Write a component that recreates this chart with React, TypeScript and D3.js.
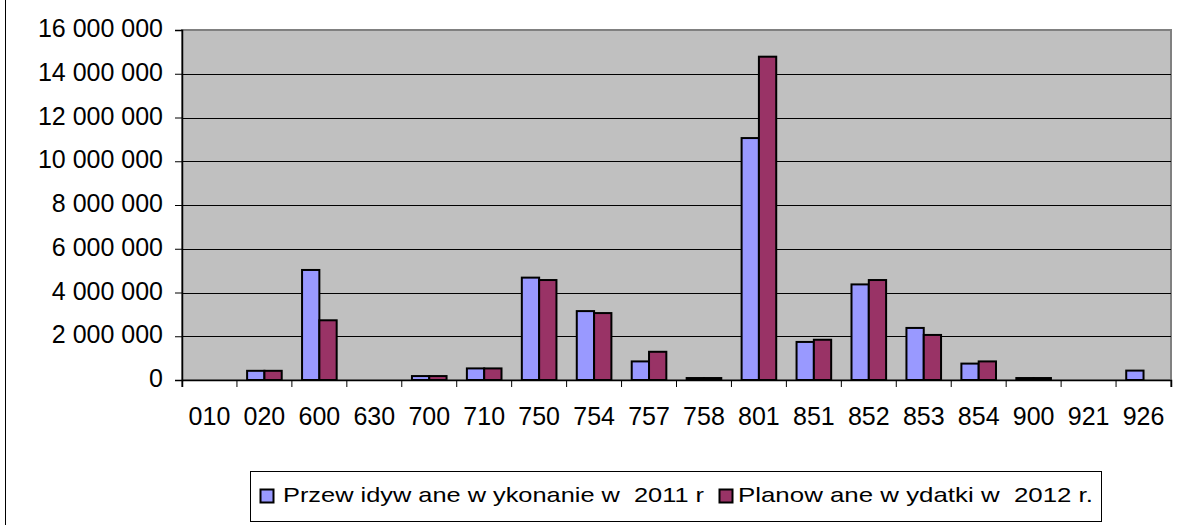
import React, { useEffect, useRef } from 'react';
import * as d3 from 'd3';

const categories = ['010', '020', '600', '630', '700', '710', '750', '754', '757', '758', '801', '851', '852', '853', '854', '900', '921', '926'];
const values2011 = [0, 420000, 5030000, 0, 180000, 530000, 4680000, 3150000, 850000, 90000, 11060000, 1740000, 4370000, 2380000, 750000, 90000, 0, 430000];
const values2012 = [0, 420000, 2730000, 0, 180000, 530000, 4570000, 3060000, 1290000, 90000, 14780000, 1840000, 4570000, 2060000, 850000, 90000, 0, 0];
const seriesNames = ['Przew idyw ane w ykonanie w  2011 r', 'Planow ane w ydatki w  2012 r.'];
const yTicks = [0, 2000000, 4000000, 6000000, 8000000, 10000000, 12000000, 14000000, 16000000];

const colors = ['#9999FF', '#993366'];

const App: React.FC = () => {
  const svgRef = useRef<SVGSVGElement | null>(null);

  useEffect(() => {
    if (!svgRef.current) return;
    const svg = d3.select(svgRef.current);
    svg.selectAll('*').remove();

    const plot = { left: 182, right: 1171, top: 30, bottom: 380 };
    const font = 'Liberation Sans, Arial, sans-serif';

    // outer frame (only left edge visible)
    svg.append('line')
      .attr('x1', 5.5).attr('x2', 5.5).attr('y1', 0).attr('y2', 525)
      .attr('stroke', '#000').attr('stroke-width', 1);

    // plot background
    svg.append('rect')
      .attr('x', plot.left).attr('y', plot.top)
      .attr('width', plot.right - plot.left).attr('height', plot.bottom - plot.top)
      .attr('fill', '#C0C0C0')
      .attr('stroke', '#808080').attr('stroke-width', 2);

    const x0 = d3.scaleBand<string>()
      .domain(categories)
      .range([plot.left, plot.right])
      .padding(0);

    const bw = x0.bandwidth();
    const x1 = d3.scaleBand<number>()
      .domain([0, 1])
      .range([bw * 0.185, bw * 0.815])
      .padding(0);

    const y = d3.scaleLinear()
      .domain([0, 16000000])
      .range([plot.bottom, plot.top]);

    // gridlines
    svg.append('g')
      .selectAll('line')
      .data(yTicks.filter(t => t > 0 && t < 16000000))
      .enter()
      .append('line')
      .attr('x1', plot.left).attr('x2', plot.right)
      .attr('y1', d => Math.round(y(d)) + 0.5).attr('y2', d => Math.round(y(d)) + 0.5)
      .attr('stroke', '#000').attr('stroke-width', 1);

    // bars
    const series = [values2011, values2012];
    series.forEach((vals, si) => {
      svg.append('g')
        .selectAll('rect')
        .data(vals.map((v, i) => ({ cat: categories[i], v })).filter(d => d.v > 0))
        .enter()
        .append('rect')
        .attr('x', d => (x0(d.cat) || 0) + (x1(si) || 0))
        .attr('y', d => y(d.v))
        .attr('width', x1.bandwidth())
        .attr('height', d => plot.bottom - y(d.v))
        .attr('fill', colors[si])
        .attr('stroke', '#000')
        .attr('stroke-width', 2);
    });

    // y axis
    const yAxis = svg.append('g')
      .attr('transform', `translate(${plot.left},0)`)
      .call(d3.axisLeft(y).tickValues(yTicks).tickSize(7).tickPadding(12)
        .tickFormat(d => d3.format(',')(d as number).replace(/,/g, ' ')));
    yAxis.select('.domain').attr('stroke', '#000').attr('stroke-width', 1.5);
    yAxis.selectAll('.tick line').attr('stroke', '#000');
    yAxis.selectAll('.tick text')
      .attr('font-family', font).attr('font-size', 25).attr('fill', '#000')
      .attr('dy', '0.26em');

    // x axis
    const xAxis = svg.append('g')
      .attr('transform', `translate(0,${plot.bottom})`)
      .call(d3.axisBottom(x0).tickSize(7).tickPadding(20));
    xAxis.select('.domain').attr('stroke', '#000').attr('stroke-width', 1.5);
    xAxis.selectAll('.tick').attr('transform', d => `translate(${(x0(d as string) || 0) + bw / 2},0)`);
    xAxis.selectAll('.tick line')
      .attr('stroke', '#000')
      .attr('transform', `translate(${-bw / 2},0)`);
    xAxis.selectAll('.tick text')
      .attr('font-family', font).attr('font-size', 25).attr('fill', '#000');
    // last tick at right end
    xAxis.append('line')
      .attr('x1', plot.right).attr('x2', plot.right).attr('y1', 0).attr('y2', 7)
      .attr('stroke', '#000');

    // legend
    const legend = svg.append('g');
    legend.append('rect')
      .attr('x', 250.5).attr('y', 471.5).attr('width', 851).attr('height', 50)
      .attr('fill', '#fff').attr('stroke', '#000').attr('stroke-width', 1);

    const legendItems = [
      { swatch: 260.5, textX: 283, width: 421 },
      { swatch: 719.5, textX: 738, width: 355 },
    ];
    legendItems.forEach((it, i) => {
      legend.append('rect')
        .attr('x', it.swatch).attr('y', 489.5).attr('width', 13).attr('height', 13)
        .attr('fill', colors[i]).attr('stroke', '#000').attr('stroke-width', 2);
      legend.append('text')
        .attr('x', it.textX).attr('y', 502)
        .attr('font-family', font).attr('font-size', 21).attr('fill', '#000')
        .attr('textLength', it.width).attr('lengthAdjust', 'spacingAndGlyphs')
        .style('white-space', 'pre')
        .text(seriesNames[i]);
    });
  }, []);

  return (
    <svg ref={svgRef} width={1184} height={525} style={{ position: 'absolute', left: 0, top: 0, background: '#fff' }} />
  );
};

export default App;
